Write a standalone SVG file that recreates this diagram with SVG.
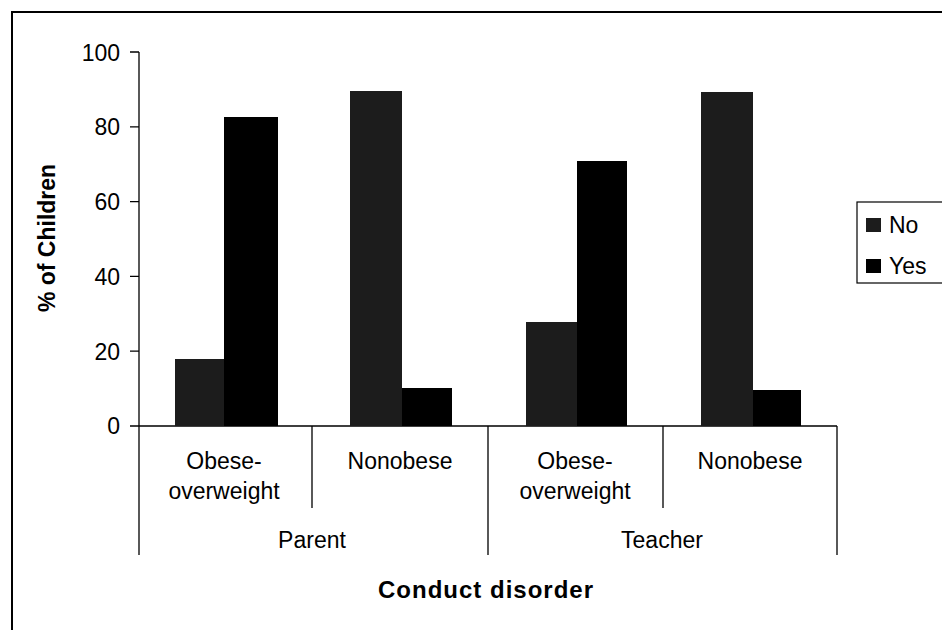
<svg xmlns="http://www.w3.org/2000/svg" width="942" height="630" viewBox="0 0 942 630">
<style>
.ax{stroke:#000;stroke-width:1.3;fill:none}
.frame{stroke:#000;stroke-width:2;fill:none}
.no{fill:#1c1c1c}
.yes{fill:#000}
.t{font-family:"Liberation Sans",Arial,sans-serif;font-size:23px;fill:#000}
.b{font-family:"Liberation Sans",Arial,sans-serif;font-weight:bold;fill:#000}
</style>
<rect width="942" height="630" fill="#fff"/>
<path class="frame" d="M12,630 V12 H942"/>
<g id="axes">
<path class="ax" d="M139,52 V555 M130,52 H139 M130,126.8 H139 M130,201.6 H139 M130,276.4 H139 M130,351.2 H139 M130,426 H837 M312,426 V508 M488,426 V555 M663,426 V508 M837,426 V555"/>
<g class="t" text-anchor="end" font-size="24">
<text x="120" y="61">100</text>
<text x="120" y="135">80</text>
<text x="120" y="210">60</text>
<text x="120" y="285">40</text>
<text x="120" y="360">20</text>
<text x="120" y="434">0</text>
</g>
</g>
<g id="bars">
<rect class="no" x="175" y="359" width="50" height="67"/>
<rect class="yes" x="224" y="117" width="54" height="309"/>
<rect class="no" x="350" y="91" width="52" height="335"/>
<rect class="yes" x="402" y="388" width="50" height="38"/>
<rect class="no" x="526" y="322" width="51" height="104"/>
<rect class="yes" x="577" y="161" width="50" height="265"/>
<rect class="no" x="701" y="92" width="52" height="334"/>
<rect class="yes" x="753" y="390" width="48" height="36"/>
</g>
<g id="category-labels" class="t" text-anchor="middle">
<text x="224" y="469">Obese-</text>
<text x="224" y="499">overweight</text>
<text x="400" y="469">Nonobese</text>
<text x="575" y="469">Obese-</text>
<text x="575" y="499">overweight</text>
<text x="750" y="469">Nonobese</text>
<text x="312" y="548">Parent</text>
<text x="662" y="548">Teacher</text>
</g>
<text id="x-title" class="b" x="486" y="598" font-size="24" letter-spacing="1" text-anchor="middle">Conduct disorder</text>
<text id="y-title" class="b" font-size="23" text-anchor="middle" transform="translate(55,238) rotate(-90)">% of Children</text>
<g id="legend">
<rect x="857" y="202" width="95" height="81" fill="#fff" stroke="#000" stroke-width="1.2"/>
<rect class="no" x="866" y="218" width="15" height="14"/>
<rect class="yes" x="866" y="259" width="15" height="14"/>
<text class="t" x="889" y="233">No</text>
<text class="t" x="889" y="274">Yes</text>
</g>
</svg>
